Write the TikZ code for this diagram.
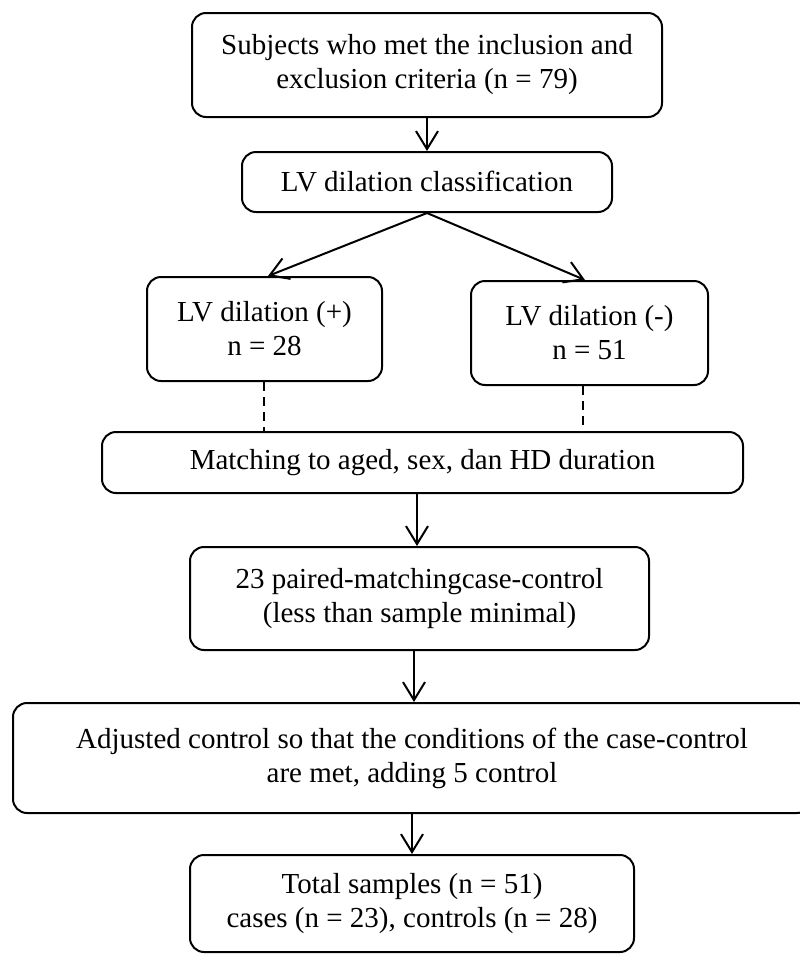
\documentclass[tikz,border=0pt]{standalone}
\usepackage{fontspec}
\setmainfont{Liberation Serif}
\usetikzlibrary{arrows.meta}
\tikzset{
  box/.style={draw, line width=2pt, rounded corners=14pt, align=center, inner sep=0pt,
    font=\fontsize{29}{34}\selectfont},
  arr/.style={line width=2pt, -{Straight Barb[length=18pt,width=22pt,line width=2pt]}},
  dsh/.style={line width=2pt, dash pattern=on 9pt off 6pt}
}
\begin{document}
\begin{tikzpicture}[x=1pt,y=-1pt]
\useasboundingbox (0,0) rectangle (800,954);
\clip (0,0) rectangle (800,954);
\node[box, minimum width=470pt, minimum height=104pt] (b1) at (427,65)
  {Subjects who met the inclusion and\\exclusion criteria (n = 79)};
\node[box, minimum width=370pt, minimum height=60pt] (b2) at (427,182)
  {LV dilation classification};
\node[box, minimum width=235pt, minimum height=104pt] (b3) at (264.5,329)
  {LV dilation (+)\\n = 28};
\node[box, minimum width=237pt, minimum height=104pt] (b4) at (589.5,333)
  {LV dilation (-)\\n = 51};
\node[box, minimum width=641pt, minimum height=61pt] (b5) at (422.5,462.5)
  {Matching to aged, sex, dan HD duration};
\node[box, minimum width=459pt, minimum height=103pt] (b6) at (419.5,598.5)
  {23 paired-matchingcase-control\\(less than sample minimal)};
\node[box, minimum width=798pt, minimum height=110pt] (b7) at (412,758)
  {Adjusted control so that the conditions of the case-control\\are met, adding 5 control};
\node[box, minimum width=444pt, minimum height=97pt] (b8) at (412,903.5)
  {Total samples (n = 51)\\cases (n = 23), controls (n = 28)};

\draw[arr] (b1.south) -- (b2.north);
\draw[arr] (b2.south) -- ([xshift=3.5pt]b3.north);
\draw[arr] (b2.south) -- ([xshift=-4.5pt]b4.north);
\draw[dsh] ([xshift=-0.5pt]b3.south) -- ([xshift=-158.5pt]b5.north);
\draw[dsh] ([xshift=-6.5pt]b4.south) -- ([xshift=160.5pt]b5.north);
\draw[arr] ([xshift=-5.5pt]b5.south) -- ([xshift=-2.5pt]b6.north);
\draw[arr] ([xshift=-5.5pt]b6.south) -- ([xshift=2pt]b7.north);
\draw[arr] (b7.south) -- (b8.north);
\end{tikzpicture}
\end{document}
